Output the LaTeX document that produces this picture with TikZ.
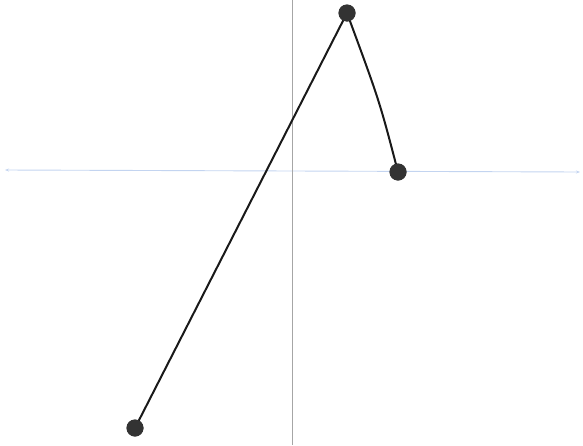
\documentclass[tikz,border=0pt]{standalone}
\usetikzlibrary{arrows.meta}
\definecolor{axblue}{RGB}{195,212,240}
\begin{document}
\begin{tikzpicture}[x=1pt,y=-1pt,
  dot/.style={circle,fill=black!80,inner sep=0pt,minimum size=17pt},
  curve/.style={line width=2pt,black!90},
  axisx/.style={line width=0.9pt,axblue,{Stealth[length=4pt]}-{Stealth[length=4pt]}},
  axisy/.style={line width=1pt,black!35}]
\useasboundingbox (0,0) rectangle (583,445);
\coordinate (xl) at (5,170);
\coordinate (xr) at (580,172);
\coordinate (yt) at (292,0);
\coordinate (yb) at (292,445);
\draw[axisx] (xl) -- (xr);
\draw[axisy] (yt) -- (yb);
\node[dot] (p1) at (135,428) {};
\node[dot] (p2) at (347,13) {};
\node[dot] (p3) at (398,172) {};
\draw[curve] (p1.center) -- (p2.center);
\draw[curve] (p2.center) .. controls (379.5,101) .. (p3.center);
\node[dot] at (p1) {};
\node[dot] at (p2) {};
\node[dot] at (p3) {};
\end{tikzpicture}
\end{document}
